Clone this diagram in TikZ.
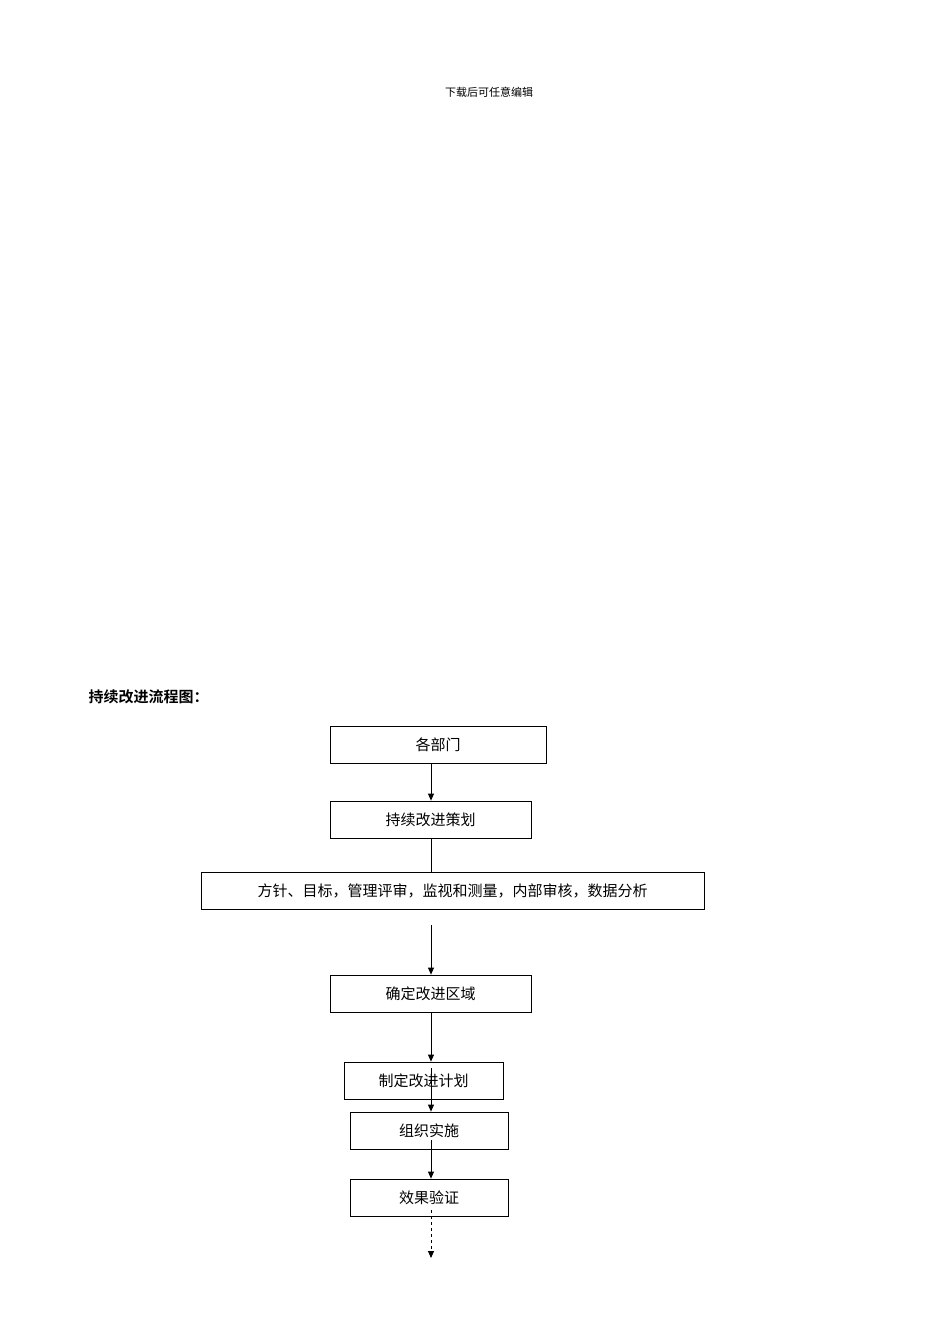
\documentclass[tikz,border=0pt]{standalone}
\usepackage{fontspec}
\newfontfamily\cjk{Noto Sans CJK SC}
\newfontfamily\cjkb{Noto Sans CJK SC Bold}
\usetikzlibrary{arrows.meta}
\begin{document}
\begin{tikzpicture}[x=1pt,y=-1pt,
  bx/.style={draw,line width=0.8pt,inner sep=0pt,font=\cjk\fontsize{15}{15}\selectfont},
  ar/.style={-{Triangle[length=7pt,width=6pt]},line width=0.8pt}]
\useasboundingbox (0,0) rectangle (950,1344);
\node[font=\cjk\fontsize{11}{11}\selectfont] (hdr) at (489,92) {下载后可任意编辑};
\node[font=\cjkb\fontsize{15}{15}\selectfont,anchor=west] (ttl) at (85,697) {持续改进流程图：};
\newcommand{\bxat}[5]{\node[bx,minimum width=#3-#2,minimum height=37] (#1) at ({(#2+#3)/2},#4) {#5};}
\bxat{a}{330}{546}{744.5}{各部门}
\bxat{b}{330}{531}{819.5}{持续改进策划}
\bxat{c}{201}{704}{891}{方针、目标，管理评审，监视和测量，内部审核，数据分析}
\bxat{d}{330}{531}{993.5}{确定改进区域}
\bxat{e}{344}{503}{1080.5}{制定改进计划}
\bxat{f}{350}{508}{1130.5}{组织实施}
\bxat{g}{350}{508}{1197.5}{效果验证}
\coordinate (c1) at (431,925);
\coordinate (e1) at (431,1068);
\coordinate (f1) at (431,1140);
\coordinate (g1) at (431,1210);
\coordinate (end) at (431,1258);
\draw[ar] (a.south -| 431,0) -- (b.north -| 431,0);
\draw[line width=0.8pt] (b.south -| 431,0) -- (c.north -| 431,0);
\draw[ar] (c1) -- (d.north -| 431,0);
\draw[ar] (d.south -| 431,0) -- (e.north -| 431,0);
\draw[ar] (e1) -- (f.north -| 431,0);
\draw[ar] (f1) -- (g.north -| 431,0);
\draw[ar,dashed] (g1) -- (end);
\end{tikzpicture}
\end{document}
